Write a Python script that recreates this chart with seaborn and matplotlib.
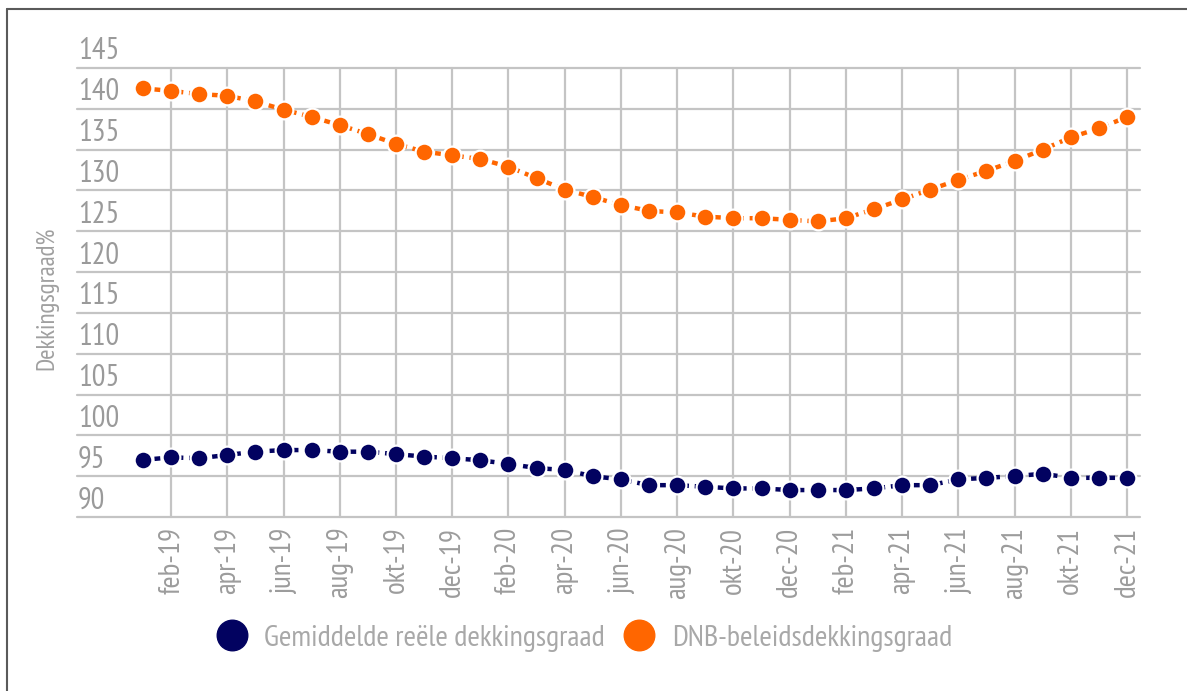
import matplotlib
matplotlib.use("Agg")
import matplotlib.pyplot as plt
import matplotlib.transforms as mtransforms
from matplotlib.lines import Line2D
import seaborn as sns
import pandas as pd
import numpy as np

# ---------------- data ----------------
months = ["jan-19", "feb-19", "mrt-19", "apr-19", "mei-19", "jun-19", "jul-19", "aug-19",
          "sep-19", "okt-19", "nov-19", "dec-19",
          "jan-20", "feb-20", "mrt-20", "apr-20", "mei-20", "jun-20", "jul-20", "aug-20",
          "sep-20", "okt-20", "nov-20", "dec-20",
          "jan-21", "feb-21", "mrt-21", "apr-21", "mei-21", "jun-21", "jul-21", "aug-21",
          "sep-21", "okt-21", "nov-21", "dec-21"]

reele = [97.0, 97.3, 97.2, 97.6, 98.0, 98.2, 98.2, 98.0, 98.0, 97.7,
         97.4, 97.2, 96.95, 96.5, 96.0, 95.75, 95.0, 94.6, 93.9, 93.9, 93.7, 93.5, 93.5, 93.3,
         93.3, 93.3, 93.5, 93.9, 93.9, 94.6, 94.8, 95.0, 95.3, 94.8, 94.8, 94.8]

dnb = [142.5, 142.2, 141.8, 141.6, 140.9, 139.9, 139.0, 138.0, 136.9, 135.7,
       134.75, 134.3, 133.85, 132.9, 131.5, 130.1, 129.2, 128.2, 127.5, 127.3, 126.8, 126.6, 126.6, 126.4,
       126.2, 126.6, 127.7, 128.9, 130.1, 131.3, 132.4, 133.6, 135.0, 136.5, 137.6, 139.0]

series_names = ["Gemiddelde reële dekkingsgraad", "DNB-beleidsdekkingsgraad"]
series_colors = ["#020260", "#ff6600"]
yticks = [90, 95, 100, 105, 110, 115, 120, 125, 130, 135, 140, 145]
y_title = "Dekkingsgraad%"

# ---------------- style ----------------
sns.set_style("white")
plt.rcParams["font.family"] = ["PT Sans Narrow", "DejaVu Sans"]

W, H = 1187, 691
fig = plt.figure(figsize=(W / 100, H / 100), dpi=100)
fig.patch.set_facecolor("white")

left_px, right_px, top_px, bottom_px = 77, 1140, 68, 517
ax = fig.add_axes([left_px / W, 1 - bottom_px / H, (right_px - left_px) / W, (bottom_px - top_px) / H])

idx = np.arange(len(months))
df = pd.DataFrame({
    "idx": np.concatenate([idx, idx]),
    "val": reele + dnb,
    "serie": [series_names[0]] * len(idx) + [series_names[1]] * len(idx),
})

for name, col in zip(series_names, series_colors):
    sub = df[df["serie"] == name]
    sns.lineplot(data=sub, x="idx", y="val", ax=ax, color=col, lw=3.2,
                 marker="o", markersize=12.8, markeredgecolor="white", markeredgewidth=1.6,
                 dashes=False, legend=False, zorder=3)
    ax.lines[-1].set_dashes((1.3, 1.3))

step = 28.11
x0 = -(143 - left_px) / step
x1 = 35 + (right_px - 1127) / step
ax.set_xlim(x0, x1)
ax.set_ylim(90, 145)

tick_idx = idx[1::2]
ax.set_xticks(tick_idx)
ax.set_xticklabels([months[i] for i in tick_idx], rotation=90, fontsize=21, color="#9c9c9c")
ax.set_yticks(yticks)
ax.set_yticklabels([])
ax.tick_params(axis="both", length=0)
ax.tick_params(axis="x", pad=7)
ax.set_xlabel("")
ax.set_ylabel("")

ax.grid(True, color="#c4c4c4", lw=1.6)
for gl in ax.get_ygridlines() + ax.get_xgridlines():
    gl.set_clip_on(False)
ax.set_axisbelow(True)
for s in ax.spines.values():
    s.set_visible(False)

# y tick labels above their gridlines, left-aligned inside plot area
trans = mtransforms.blended_transform_factory(ax.transAxes, ax.transData) + \
    mtransforms.ScaledTranslation(1 / 100, 8.5 / 100, fig.dpi_scale_trans)
for v in yticks:
    ax.text(0, v, str(v), transform=trans, ha="left", va="baseline",
            fontsize=22, color="#9a9a9a")

fig.text(47 / W, 1 - 298 / H, y_title, rotation=90, ha="center", va="center",
         fontsize=18, color="#a0a0a0")

handles = [Line2D([], [], linestyle="none", marker="o", markersize=22,
                  markerfacecolor=c, markeredgecolor=c) for c in series_colors]
fig.legend(handles, series_names, loc="center", bbox_to_anchor=(584 / W, 1 - 638 / H),
           ncol=2, frameon=False, fontsize=21.8, labelcolor="#a8a8a8",
           handlelength=1.05, handletextpad=0.55, columnspacing=0.6)

# frame lines of the screenshot
fig.add_artist(Line2D([7 / W, 7 / W], [0, 1 - 9 / H], transform=fig.transFigure,
                      color="#5a5a5a", lw=1.5))
fig.add_artist(Line2D([7 / W, 1], [1 - 9 / H, 1 - 9 / H], transform=fig.transFigure,
                      color="#5a5a5a", lw=1.5))

fig.savefig("out.png", dpi=100, facecolor="white")
